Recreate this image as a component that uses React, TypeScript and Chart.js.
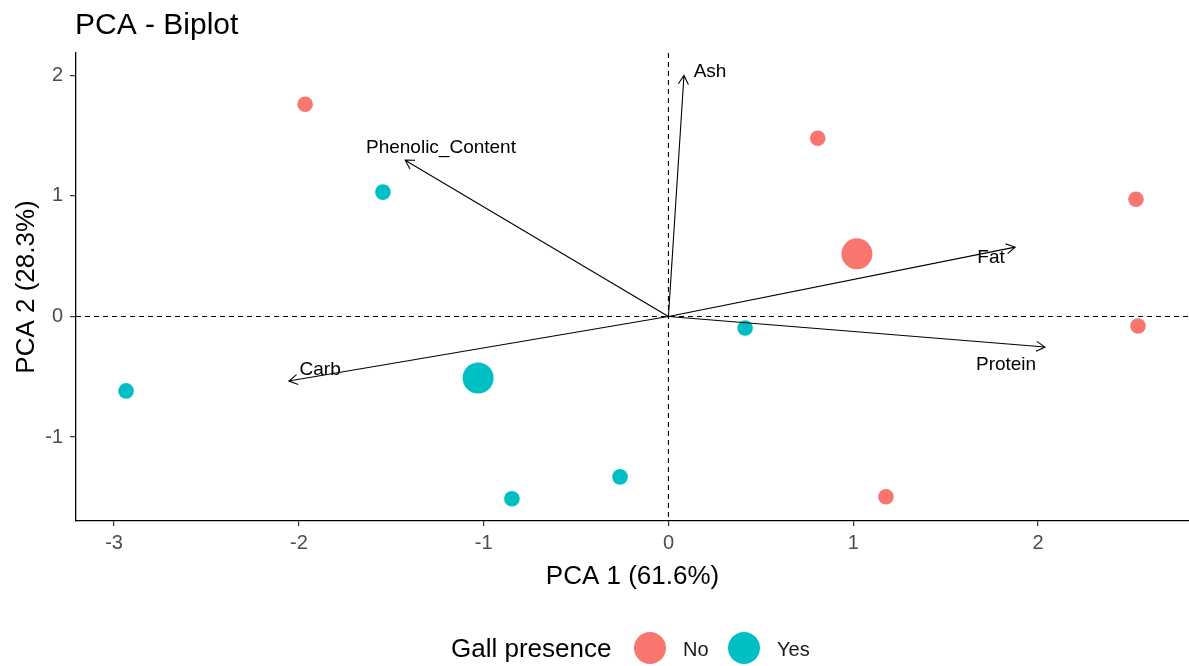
import { useEffect, useRef } from "react";
import { Chart, registerables } from "chart.js";

Chart.register(...registerables);

// Individuals (scores on PC1 / PC2) per group
const groups = ["No", "Yes"];
const groupColors = ["#F8766D", "#00BFC4"];
const noX = [-1.966, 0.808, 2.53, 2.541, 1.177];
const noY = [1.761, 1.479, 0.973, -0.079, -1.495];
const yesX = [-1.545, 0.415, -2.935, -0.847, -0.262];
const yesY = [1.032, -0.095, -0.617, -1.512, -1.33];

// Group centroids (drawn as larger points)
const meanX = [1.02, -1.03];
const meanY = [0.52, -0.51];

// Variable loadings (arrows from origin) and label anchors
const variables = ["Ash", "Phenolic_Content", "Fat", "Protein", "Carb"];
const loadX = [0.084, -1.425, 1.876, 2.038, -2.054];
const loadY = [2.0, 1.297, 0.576, -0.253, -0.535];
const labelX = [0.225, -1.231, 1.746, 1.827, -1.885];
const labelY = [2.034, 1.404, 0.485, -0.402, -0.443];

// Axis ticks
const xTicks = [-3, -2, -1, 0, 1, 2];
const yTicks = [-1, 0, 1, 2];

const FONT = "'Liberation Sans', Arial, sans-serif";

const biplotPlugin = {
  id: "biplot",
  beforeDatasetsDraw(chart: any) {
    const { ctx, chartArea: a, scales } = chart;
    const x0 = scales.x.getPixelForValue(0);
    const y0 = scales.y.getPixelForValue(0);
    ctx.save();
    ctx.beginPath();
    ctx.rect(a.left, a.top, a.right - a.left, a.bottom - a.top);
    ctx.clip();
    ctx.setLineDash([5, 4]);
    ctx.strokeStyle = "#000";
    ctx.lineWidth = 1.1;
    ctx.beginPath();
    ctx.moveTo(x0, a.top);
    ctx.lineTo(x0, a.bottom);
    ctx.moveTo(a.left, y0);
    ctx.lineTo(a.right, y0);
    ctx.stroke();
    ctx.restore();
  },
  afterDatasetsDraw(chart: any) {
    const { ctx, scales } = chart;
    const x0 = scales.x.getPixelForValue(0);
    const y0 = scales.y.getPixelForValue(0);
    ctx.save();
    ctx.strokeStyle = "#000";
    ctx.lineWidth = 1.1;
    ctx.setLineDash([]);
    variables.forEach((_, i) => {
      const tx = scales.x.getPixelForValue(loadX[i]);
      const ty = scales.y.getPixelForValue(loadY[i]);
      const ang = Math.atan2(ty - y0, tx - x0);
      const head = 10;
      const spread = Math.PI / 6;
      ctx.beginPath();
      ctx.moveTo(x0, y0);
      ctx.lineTo(tx, ty);
      ctx.moveTo(tx - head * Math.cos(ang - spread), ty - head * Math.sin(ang - spread));
      ctx.lineTo(tx, ty);
      ctx.lineTo(tx - head * Math.cos(ang + spread), ty - head * Math.sin(ang + spread));
      ctx.stroke();
    });
    ctx.fillStyle = "#000";
    ctx.font = `19px ${FONT}`;
    ctx.textAlign = "center";
    ctx.textBaseline = "middle";
    variables.forEach((name, i) => {
      ctx.fillText(name, scales.x.getPixelForValue(labelX[i]), scales.y.getPixelForValue(labelY[i]));
    });
    ctx.restore();
  },
  afterDraw(chart: any) {
    const { ctx } = chart;
    ctx.save();
    // Title
    ctx.fillStyle = "#000";
    ctx.font = `30px ${FONT}`;
    ctx.textAlign = "left";
    ctx.textBaseline = "alphabetic";
    ctx.fillText("PCA - Biplot", 75, 34);
    // Legend
    ctx.textBaseline = "middle";
    ctx.font = `26px ${FONT}`;
    ctx.fillText("Gall presence", 451, 650);
    const keyX = [650, 744];
    const textX = [683, 777];
    groups.forEach((g, i) => {
      ctx.fillStyle = groupColors[i];
      ctx.beginPath();
      ctx.arc(keyX[i], 648, 16, 0, Math.PI * 2);
      ctx.fill();
      ctx.fillStyle = "#1a1a1a";
      ctx.font = `20px ${FONT}`;
      ctx.fillText(g, textX[i], 650);
    });
    ctx.restore();
  },
};

export default function App() {
  const canvasRef = useRef<HTMLCanvasElement | null>(null);

  useEffect(() => {
    if (!canvasRef.current) return;
    const pts = (xs: number[], ys: number[]) => xs.map((x, i) => ({ x, y: ys[i] }));
    const chart = new Chart(canvasRef.current, {
      type: "scatter",
      data: {
        datasets: [
          {
            label: groups[0],
            data: pts(noX, noY),
            backgroundColor: groupColors[0],
            borderWidth: 0,
            pointRadius: 7.8,
          },
          {
            label: groups[1],
            data: pts(yesX, yesY),
            backgroundColor: groupColors[1],
            borderWidth: 0,
            pointRadius: 7.8,
          },
          {
            label: groups[0] + " mean",
            data: [{ x: meanX[0], y: meanY[0] }],
            backgroundColor: groupColors[0],
            borderWidth: 0,
            pointRadius: 15.5,
          },
          {
            label: groups[1] + " mean",
            data: [{ x: meanX[1], y: meanY[1] }],
            backgroundColor: groupColors[1],
            borderWidth: 0,
            pointRadius: 15.5,
          },
        ],
      },
      options: {
        animation: false,
        responsive: false,
        devicePixelRatio: 1,
        events: [],
        layout: { padding: { top: 53, right: 0, bottom: 0, left: 0 }, autoPadding: false },
        plugins: {
          legend: { display: false },
          tooltip: { enabled: false },
          title: { display: false },
        },
        scales: {
          x: {
            type: "linear",
            min: -3.206,
            max: 2.817,
            afterBuildTicks: (s: any) => {
              s.ticks = xTicks.map((v) => ({ value: v }));
            },
            afterFit: (s: any) => {
              s.height = 145;
            },
            grid: { drawOnChartArea: false, drawTicks: true, tickLength: 5, color: "#333", lineWidth: 1.2 },
            border: { display: true, color: "#000", width: 1.3 },
            ticks: { font: { family: FONT, size: 20 }, color: "#4d4d4d", padding: 5, maxRotation: 0 },
            title: {
              display: true,
              text: "PCA 1 (61.6%)",
              font: { family: FONT, size: 26 },
              color: "#000",
              padding: { top: 0, bottom: 74 },
            },
          },
          y: {
            type: "linear",
            min: -1.696,
            max: 2.186,
            afterBuildTicks: (s: any) => {
              s.ticks = yTicks.map((v) => ({ value: v }));
            },
            afterFit: (s: any) => {
              s.width = 76;
            },
            grid: { drawOnChartArea: false, drawTicks: true, tickLength: 6, color: "#333", lineWidth: 1.2 },
            border: { display: true, color: "#000", width: 1.3 },
            ticks: { font: { family: FONT, size: 20 }, color: "#4d4d4d", padding: 7 },
            title: {
              display: true,
              text: "PCA 2 (28.3%)",
              font: { family: FONT, size: 26 },
              color: "#000",
              padding: { top: 11, bottom: 0 },
            },
          },
        },
      },
      plugins: [biplotPlugin],
    });
    return () => chart.destroy();
  }, []);

  return (
    <div style={{ position: "fixed", left: 0, top: 0, width: 1189, height: 666, background: "#fff" }}>
      <canvas ref={canvasRef} width={1189} height={666} />
    </div>
  );
}
